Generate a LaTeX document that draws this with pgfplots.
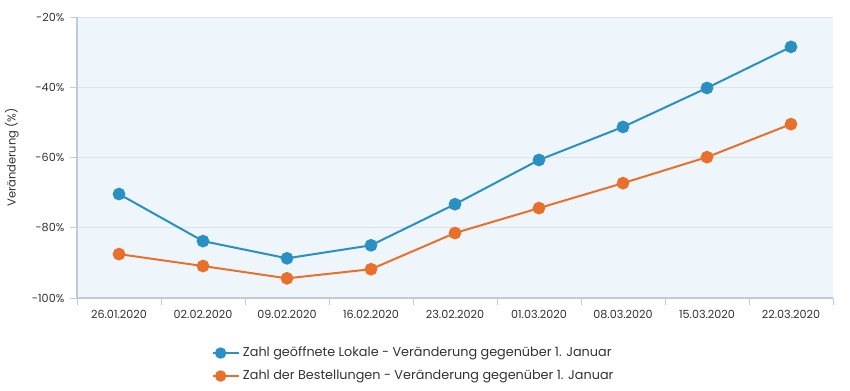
\documentclass[border=0pt]{standalone}
\usepackage{pgfplots}
\pgfplotsset{compat=1.18}
\usepackage{fontspec}
\setmainfont{Poppins}
\definecolor{cblue}{HTML}{2A8FC3}
\definecolor{corange}{HTML}{E8702A}
\definecolor{bgfill}{HTML}{EEF6FB}
\definecolor{gridc}{HTML}{DDE3E8}
\definecolor{axc}{HTML}{C3CBD2}
\definecolor{txt}{HTML}{333333}
\begin{document}
\begin{tikzpicture}[x=0.75pt,y=0.75pt]
\useasboundingbox (-77,-92) rectangle (773,298);
\begin{axis}[
  at={(0,0)}, anchor=south west,
  scale only axis, width=567pt, height=210.75pt,
  xmin=-0.5, xmax=8.5, ymin=-100, ymax=-20,
  axis background/.style={fill=bgfill},
  axis x line*=bottom, axis y line*=left,
  axis line style={axc, line width=1.5pt},
  xtick={0,...,8},
  xticklabels={26.01.2020,02.02.2020,09.02.2020,16.02.2020,23.02.2020,01.03.2020,08.03.2020,15.03.2020,22.03.2020},
  major x tick style={draw=none},
  minor xtick={-0.5,0.5,...,8.5},
  minor x tick style={axc, line width=0.6pt},
  minor tick length=5pt,
  ytick={-100,-80,-60,-40,-20},
  yticklabels={-100\%,-80\%,-60\%,-40\%,-20\%},
  y tick style={axc, line width=0.6pt},
  major tick length=5pt,
  tick align=outside,
  ymajorgrids, grid style={gridc, line width=0.6pt},
  tick label style={font=\fontsize{8.4}{10}\selectfont, text=txt},
  xticklabel style={yshift=-1pt},
  yticklabel style={xshift=-1pt},
  ylabel={Veränderung (\%)},
  ylabel style={font=\fontsize{8.6}{10}\selectfont, text=txt, yshift=3pt},
  /pgf/number format/assume math mode=true,
  clip=false,
  legend style={at={(0.172,-0.155)}, anchor=north west, draw=none, fill=none,
    font=\fontsize{9.6}{11}\selectfont, text=txt, row sep=4.5pt, cells={anchor=west}},
  legend cell align=left,
  legend image code/.code={
    \draw[#1, line width=2pt] (0pt,0pt) -- (12pt,0pt);
    \fill[#1] (6pt,0pt) circle (3.5pt);
    \path (0pt,0pt) -- (20pt,0pt);
  },
]
\addplot[cblue, line width=1.5pt, mark=*, mark size=4pt, mark options={fill=cblue, draw=cblue}]
 coordinates {(0,-70.4) (1,-83.8) (2,-88.7) (3,-85.0) (4,-73.3) (5,-60.7) (6,-51.3) (7,-40.2) (8,-28.5)};
\addlegendentry{Zahl geöffnete Lokale - Veränderung gegenüber 1. Januar}
\addplot[corange, line width=1.5pt, mark=*, mark size=4pt, mark options={fill=corange, draw=corange}]
 coordinates {(0,-87.5) (1,-90.9) (2,-94.4) (3,-91.8) (4,-81.5) (5,-74.4) (6,-67.3) (7,-59.9) (8,-50.5)};
\addlegendentry{Zahl der Bestellungen - Veränderung gegenüber 1. Januar}
\end{axis}
\end{tikzpicture}
\end{document}
